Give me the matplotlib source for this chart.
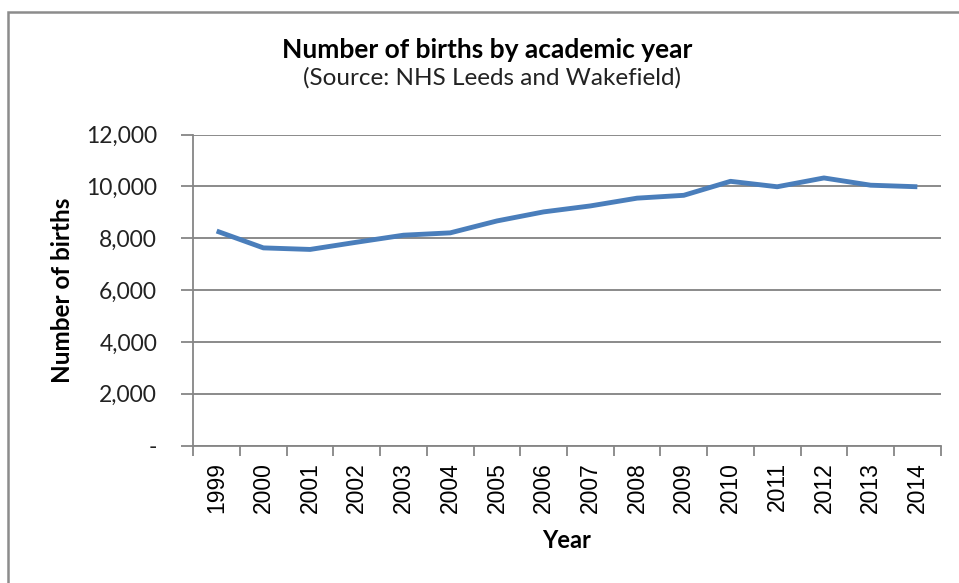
import matplotlib.pyplot as plt
import matplotlib.ticker as mticker
from matplotlib.patches import Rectangle

# --- Data ---
years = ['1999', '2000', '2001', '2002', '2003', '2004', '2005', '2006',
         '2007', '2008', '2009', '2010', '2011', '2012', '2013', '2014']
births = [8280, 7630, 7570, 7850, 8120, 8210, 8670, 9020,
          9250, 9550, 9660, 10200, 9990, 10330, 10050, 9990]
y_ticks = [0, 2000, 4000, 6000, 8000, 10000, 12000]

W, H = 959, 583
fig = plt.figure(figsize=(W / 100, H / 100), dpi=100)

# chart area border (Excel style), runs off the right and bottom of the image
fig.patches.append(Rectangle((8 / W, -0.05), 1.2, 1 - 12.5 / H + 0.05,
                             transform=fig.transFigure, fill=False,
                             edgecolor='#8c8c8c', linewidth=1.8))

ax = fig.add_axes([193.3 / W, 1 - 445.5 / H, 747.4 / W, 310.8 / H])

x = list(range(len(years)))
ax.plot(x, births, color='#4a7ebb', linewidth=3.5, solid_capstyle='butt')

ax.set_xlim(-0.5, len(years) - 0.5)
ax.set_ylim(0, 12000)
ax.set_yticks(y_ticks)

def fmt_acct(v, pos):
    return '-' if v == 0 else f'{v:,.0f}'
ax.yaxis.set_major_formatter(mticker.FuncFormatter(fmt_acct))

# category labels in the middle, tick marks between categories
ax.set_xticks(x)
ax.set_xticklabels(years, rotation=90, fontsize=16.5, family='Liberation Sans')
ax.set_xticks([i - 0.5 for i in range(len(years) + 1)], minor=True)
ax.tick_params(axis='x', which='major', length=0, pad=12)
ax.tick_params(axis='x', which='minor', length=7, color='#868686', width=1.3)
ax.tick_params(axis='y', length=9, color='#868686', width=1.3, pad=17)
for lab in ax.get_yticklabels():
    lab.set_family('Lato')
    lab.set_fontsize(16.5)
    lab.set_color('#222222')

ax.grid(axis='y', color='#8a8a8a', linewidth=1.4)
ax.set_axisbelow(True)
for s in ['top', 'right']:
    ax.spines[s].set_visible(False)
for s in ['left', 'bottom']:
    ax.spines[s].set_color('#868686')
    ax.spines[s].set_linewidth(1.3)

fig.text(62 / W, 1 - 290 / H, 'Number of births', rotation=90, ha='center',
         va='center', fontsize=17.5, fontweight='bold', family='Lato')
fig.text(567 / W, 1 - 541 / H, 'Year', ha='center', va='center',
         fontsize=17, fontweight='bold', family='Lato')
fig.text(487 / W, 1 - 50 / H, 'Number of births by academic year',
         ha='center', va='center', fontsize=19, fontweight='bold', family='Lato')
fig.text(492 / W, 1 - 78 / H, '(Source: NHS Leeds and Wakefield)',
         ha='center', va='center', fontsize=17.5, family='Lato', color='#222222')

fig.savefig('out.png', dpi=100)
